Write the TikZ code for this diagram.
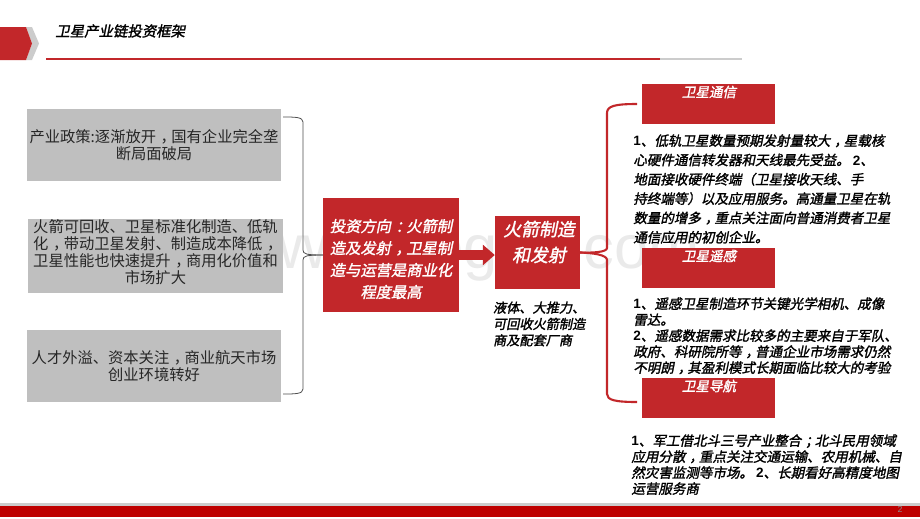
\documentclass[tikz,border=0pt]{standalone}
\usepackage{fontspec}
\usetikzlibrary{positioning,arrows.meta}
\newfontfamily\cjkreg{Noto Sans CJK SC}
\newfontfamily\cjkit[FakeSlant=0.2,FakeBold=1.6]{Noto Sans CJK SC}
\newfontfamily\numfont{Liberation Sans}[BoldFont={Liberation Sans Bold}]
\definecolor{satred}{RGB}{194,39,42}
\definecolor{bandred}{RGB}{190,0,0}
\definecolor{boxgrey}{RGB}{191,191,191}
\definecolor{markgrey}{RGB}{204,204,204}
\definecolor{wmgrey}{RGB}{234,234,234}
\tikzset{
	greybox/.style={fill=boxgrey,inner sep=0pt,align=center,font=\cjkreg\fontsize{8.7}{9.6}\selectfont,text=black!85},
	redbox/.style={fill=satred,inner sep=0pt,align=center,text=white},
	headbox/.style={redbox,minimum width=75.4pt,minimum height=22.7pt},
	headtext/.style={font=\cjkit\fontsize{7.7}{9}\selectfont,text=white,inner sep=0pt},
	bodytext/.style={anchor=north west,align=left,inner sep=0pt},
	bracered/.style={draw=satred,line width=1.2pt},
	braceblack/.style={draw=black!70,line width=0.45pt},
}
\newcommand{\nm}[1]{{\numfont\bfseries #1}}
\newcommand{\zp}[1]{\kern.3em#1\kern-.3em}
\begin{document}
\begin{tikzpicture}[x=0.02cm,y=-0.02cm]
	\useasboundingbox (0,0) rectangle (920,518);
	% watermark
	\node[text=wmgrey,font=\numfont\fontsize{35}{35}\selectfont,anchor=base east,inner sep=0pt] (mark) at (700,268) {www.baogao.com};
	% title bar
	\fill[markgrey] (26,27)--(32,27)--(39,43.5)--(32,60)--(26,60)--(32,43.5)--cycle;
	\fill[satred] (0,27)--(26,27)--(32,43.5)--(26,60)--(0,60)--cycle;
	\node[font=\cjkit\fontsize{8.2}{10}\selectfont,anchor=west,inner sep=0pt] (title) at (55,31) {卫星产业链投资框架};
	\draw[markgrey,line width=1.6pt] (660,59)--(742,59);
	\draw[satred,line width=1.6pt] (46,59)--(660,59);
	% left column
	\node[greybox,minimum width=144pt,minimum height=41pt,text width=144pt] (policy) at (154,145) {产业政策:逐渐放开\zp{，}国有企业完全垄\\断局面破局};
	\node[greybox,minimum width=145.7pt,minimum height=42pt] (techbox) at (155.5,256) {};
	\node[inner sep=0pt,align=center,font=\cjkreg\fontsize{8.7}{9.8}\selectfont,text=black!85] (tech) at (155.5,252) {火箭可回收、卫星标准化制造、低轨\\化\zp{，}带动卫星发射、制造成本降低\zp{，}\\卫星性能也快速提升\zp{，}商用化价值和\\市场扩大};
	\node[greybox,minimum width=144pt,minimum height=41pt,text width=144pt,font=\cjkreg\fontsize{8.7}{10}\selectfont] (talent) at (154,366) {人才外溢、资本关注\zp{，}商业航天市场\\创业环境转好};
	% middle
	\node[redbox,minimum width=77pt,minimum height=64.6pt] (invest) at (391,255) {};
	\node[inner sep=0pt,align=center,text=white,font=\cjkit\fontsize{8.7}{12.5}\selectfont] (investt) at (391,259) {投资方向\zp{：}火箭制\\造及发射\zp{，}卫星制\\造与运营是商业化\\程度最高};
	\node[redbox,minimum width=48.2pt,minimum height=41.4pt] (rocket) at (537.5,252.5) {};
	\node[inner sep=0pt,align=center,text=white,font=\cjkit\fontsize{10.2}{14.7}\selectfont] (rockett) at (539,242) {火箭制造\\和发射};
	\node[bodytext,font=\cjkit\fontsize{7.5}{9.3}\selectfont,below=6.8pt of rocket.south west,anchor=north west,xshift=-1.2pt] (rockettxt) {液体、大推力、\\可回收火箭制造\\商及配套厂商};
	\draw[satred,line width=5.7pt,-{Triangle[width=11.3pt,length=6.8pt]}] (invest.east)--(invest.east -| rocket.west);
	% right column
	\node[headbox] (comm) at (708.5,104) {};
	\node[headbox] (sens) at (708.5,268) {};
	\node[headbox] (navi) at (708.5,398) {};
	\node[headtext] (commt) at (709,92) {卫星通信};
	\node[headtext] (senst) at (709,256) {卫星遥感};
	\node[headtext] (navit) at (709,386) {卫星导航};
	\node[bodytext,font=\cjkit\fontsize{7.7}{11}\selectfont] (commtxt) at (633,134) {\nm{1}、低轨卫星数量预期发射量较大\zp{，}星载核\\心硬件通信转发器和天线最先受益。 \nm{2}、\\地面接收硬件终端（卫星接收天线、手\\持终端等）以及应用服务。高通量卫星在轨\\数量的增多\zp{，}重点关注面向普通消费者卫星\\通信应用的初创企业。};
	\node[bodytext,font=\cjkit\fontsize{7.7}{9.1}\selectfont] (senstxt) at (633,297) {\nm{1}、遥感卫星制造环节关键光学相机、成像\\雷达。\\\nm{2}、遥感数据需求比较多的主要来自于军队、\\政府、科研院所等\zp{，}普通企业市场需求仍然\\不明朗\zp{，}其盈利模式长期面临比较大的考验};
	\node[bodytext,font=\cjkit\fontsize{7.7}{9.1}\selectfont] (navitxt) at (631,434) {\nm{1}、军工借北斗三号产业整合\zp{；}北斗民用领域\\应用分散\zp{，}重点关注交通运输、农用机械、自\\然灾害监测等市场。 \nm{2}、长期看好高精度地图\\运营服务商};
	% braces
	\coordinate (ltip) at (invest.west);
	\draw[braceblack] (283,117) .. controls (295,117) and (303,117) .. (303,122)--(303,250) .. controls (303,254) and (306,255) .. (ltip);
	\draw[braceblack] (283,394) .. controls (295,394) and (303,394) .. (303,389)--(303,260) .. controls (303,256) and (306,255) .. (ltip);
	\coordinate (rtip) at (rocket.east);
	\draw[bracered] (637,104) .. controls (615,104) and (607,106) .. (607,113)--(607,248) .. controls (607,252) and (594,253) .. (rtip);
	\draw[bracered] (637,402) .. controls (615,402) and (607,400) .. (607,394)--(607,260) .. controls (607,255) and (594,253) .. (rtip);
	% footer
	\fill[markgrey] (0,503)--(920,503)--(920,506)--(0,506)--cycle;
	\fill[bandred] (0,506)--(920,506)--(920,517)--(0,517)--cycle;
	\node[text=black!45,font=\numfont\fontsize{5}{6}\selectfont,inner sep=0pt] (pagenum) at (900,509) {2};
\end{tikzpicture}
\end{document}
